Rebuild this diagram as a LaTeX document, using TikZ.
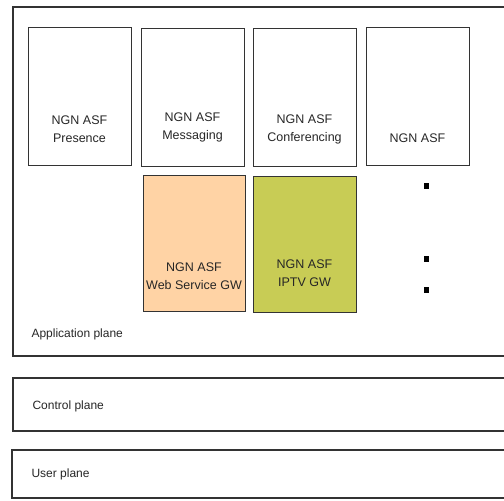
\documentclass[tikz,border=0pt]{standalone}
\usepackage{fontspec}
\setmainfont{Liberation Sans}
\begin{document}
\begin{tikzpicture}[x=1pt,y=-1pt,
  frame/.style={draw=black!80,line width=1.1pt},
  asf/.style={frame,rectangle,minimum width=103pt,minimum height=138pt,anchor=north west,inner sep=0pt},
  lbl/.style={font=\fontsize{12.5}{18}\selectfont,align=center,text=black!85},
  plane/.style={font=\fontsize{12}{15}\selectfont,anchor=west,text=black!85},
  dot/.style={fill=black,minimum width=5pt,minimum height=6pt,inner sep=0pt}]
\useasboundingbox (0,0) rectangle (504,501);
\clip (0,0) rectangle (504,501);
% planes (open to the right)
\draw[frame] (506,7) -- (13,7) -- (13,356) -- (506,356);
\draw[frame] (506,378) -- (13,378) -- (13,431) -- (506,431);
\draw[frame] (506,450) -- (12,450) -- (12,498) -- (506,498);
\node[plane] (app) at (28,334) {Application plane};
\node[plane] (ctl) at (29,406) {Control plane};
\node[plane] (usr) at (28,474) {User plane};
% ASF boxes
\node[asf] (pres) at (28,27) {};
\node[asf] (msg) at (141,28) {};
\node[asf] (conf) at (253,28) {};
\node[asf] (gen) at (366,27) {};
\node[asf,fill={rgb,255:red,255;green,211;blue,165},minimum width=102pt,minimum height=136pt] (web) at (143,175) {};
\node[asf,fill={rgb,255:red,200;green,204;blue,85},minimum width=103pt,minimum height=136pt] (iptv) at (253,176) {};
\node[lbl] (tpres) at (79.5,129.5) {NGN ASF\\Presence};
\node[lbl] (tmsg) at (192.5,127) {NGN ASF\\Messaging};
\node[lbl] (tconf) at (304.5,129) {NGN ASF\\Conferencing};
\node[lbl] (tgen) at (417.5,138) {NGN ASF};
\node[lbl] (tweb) at (194,276) {NGN ASF\\Web Service GW};
\node[lbl] (tiptv) at (304.5,273) {NGN ASF\\IPTV GW};
% dots
\node[dot] (d1) at (426,186) {};
\node[dot] (d2) at (426,259) {};
\node[dot] (d3) at (426,290) {};
\end{tikzpicture}
\end{document}
